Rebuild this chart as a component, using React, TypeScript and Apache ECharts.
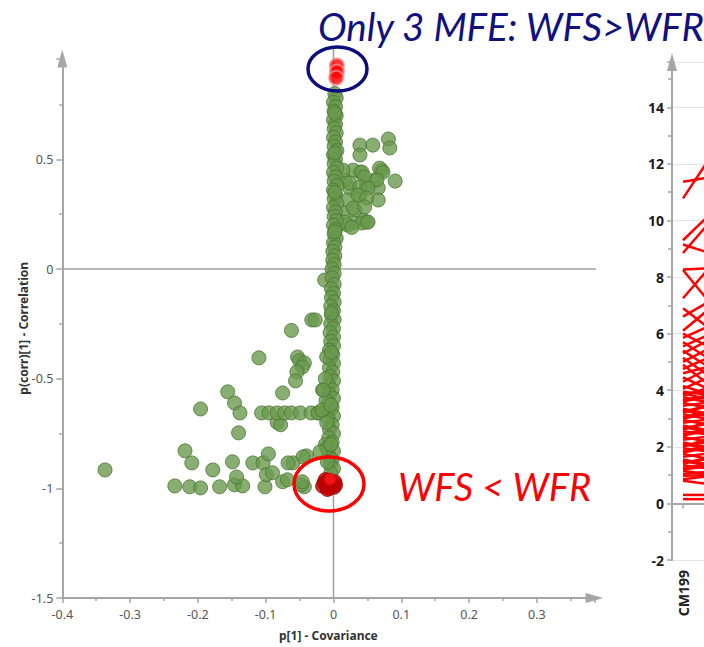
import React, { useEffect, useRef } from 'react';
import * as echarts from 'echarts';

// ---------- S-plot data (p[1] covariance, p(corr)[1] correlation) ----------
const columnPoints: [number, number][] = [
  [0.002, 0.80], [0.004, 0.78], [0.000, 0.76], [0.003, 0.74], [0.001, 0.72], [0.004, 0.70],
  [0.000, 0.68], [0.003, 0.66], [0.001, 0.64], [0.004, 0.62], [0.000, 0.60], [0.003, 0.58],
  [0.001, 0.56], [0.005, 0.54], [0.000, 0.52], [0.003, 0.50], [0.001, 0.48], [0.005, 0.46],
  [0.000, 0.44], [0.003, 0.42], [0.001, 0.40], [0.005, 0.38], [0.000, 0.36], [0.003, 0.34],
  [0.001, 0.32], [0.005, 0.30], [0.000, 0.28], [0.003, 0.26], [0.001, 0.24], [0.004, 0.22],
  [0.000, 0.20], [0.003, 0.18], [0.001, 0.16], [0.004, 0.14], [0.000, 0.12], [0.002, 0.10],
  [-0.001, 0.08], [0.002, 0.06], [-0.001, 0.04], [0.001, 0.02], [-0.002, 0.00], [0.001, -0.02],
  [-0.013, -0.05], [-0.002, -0.04], [0.001, -0.07], [-0.003, -0.09], [0.000, -0.11],
  [-0.003, -0.13], [0.001, -0.15], [-0.004, -0.17], [0.000, -0.19], [-0.003, -0.21],
  [0.001, -0.23], [-0.004, -0.25], [0.000, -0.27], [-0.005, -0.29], [0.000, -0.31],
  [-0.004, -0.33], [0.000, -0.35], [-0.006, -0.37], [-0.001, -0.39], [-0.005, -0.41],
  [0.000, -0.43], [-0.006, -0.45], [-0.001, -0.47], [-0.005, -0.49], [0.000, -0.51],
  [-0.007, -0.53], [-0.002, -0.55], [-0.006, -0.57], [0.000, -0.59], [-0.007, -0.61],
  [-0.002, -0.63], [-0.006, -0.65], [0.000, -0.67], [-0.007, -0.69], [-0.002, -0.71],
  [-0.006, -0.73], [0.000, -0.75], [-0.007, -0.77], [-0.002, -0.79], [-0.006, -0.81],
  [0.000, -0.83], [-0.007, -0.85], [-0.002, -0.87], [-0.005, -0.89], [0.000, -0.91],
  [-0.004, -0.93], [-0.010, -0.40], [-0.011, -0.60], [-0.010, -0.70], [-0.012, -0.80],
  [-0.009, -0.88], [-0.012, -0.50], [-0.015, -0.552], [-0.017, -0.643], [-0.010, -0.816],
  [-0.020, -0.834], [0.002, 0.71], [0.002, 0.53], [0.002, 0.35], [0.002, 0.17],
  [-0.003, -0.20], [-0.003, -0.38], [-0.004, -0.62], [-0.004, -0.80],
];

const upperRightPoints: [number, number][] = [
  [0.039, 0.565], [0.058, 0.565], [0.081, 0.593], [0.083, 0.552], [0.039, 0.520],
  [0.071, 0.451], [0.091, 0.401], [0.039, 0.442], [0.029, 0.451], [0.061, 0.406],
  [0.049, 0.383], [0.066, 0.369], [0.024, 0.369], [0.039, 0.337], [0.066, 0.315],
  [0.021, 0.315], [0.014, 0.255], [0.032, 0.269], [0.044, 0.223], [0.029, 0.210],
  [0.021, 0.200], [0.049, 0.214], [0.017, 0.406], [0.014, 0.451], [0.042, 0.442],
  [0.046, 0.419], [0.068, 0.460], [0.073, 0.442], [0.024, 0.392], [0.064, 0.406],
  [0.039, 0.374], [0.051, 0.369], [0.036, 0.337], [0.049, 0.324], [0.029, 0.278],
  [0.046, 0.283], [0.042, 0.210], [0.051, 0.214], [0.017, 0.214], [0.027, 0.190],
];

const lowerLeftPoints: [number, number][] = [
  [-0.337, -0.916], [-0.219, -0.829], [-0.209, -0.884], [-0.234, -0.989], [-0.212, -0.993],
  [-0.196, -0.998], [-0.178, -0.916], [-0.168, -0.993], [-0.149, -0.879], [-0.146, -0.984],
  [-0.134, -0.989], [-0.143, -0.948], [-0.140, -0.747], [-0.119, -0.884], [-0.104, -0.884],
  [-0.096, -0.843], [-0.101, -0.993], [-0.099, -0.938], [-0.090, -0.929], [-0.083, -0.700],
  [-0.078, -0.710], [-0.032, -0.232], [-0.027, -0.232], [-0.062, -0.280], [-0.110, -0.405],
  [-0.053, -0.401], [-0.050, -0.418], [-0.043, -0.428], [-0.046, -0.447], [-0.054, -0.469],
  [-0.056, -0.510], [-0.156, -0.560], [-0.146, -0.611], [-0.138, -0.656], [-0.196, -0.638],
  [-0.075, -0.565], [-0.106, -0.656], [-0.095, -0.656], [-0.083, -0.656], [-0.072, -0.656],
  [-0.062, -0.656], [-0.049, -0.656], [-0.033, -0.656], [-0.022, -0.656], [-0.040, -0.852],
  [-0.045, -0.857], [-0.060, -0.884], [-0.067, -0.884], [-0.075, -0.970], [-0.068, -0.961],
  [-0.043, -0.993], [-0.047, -0.984], [-0.046, -0.970], [-0.016, -0.551], [-0.023, -0.656],
];

const bottomRedPoints: [number, number][] = [
  [-0.014, -0.975], [-0.010, -0.990], [-0.006, -1.000], [-0.002, -0.985], [0.002, -0.970],
  [-0.012, -0.960], [-0.008, -0.965], [-0.004, -0.975], [0.001, -0.995], [-0.016, -0.990],
  [-0.009, -1.005], [0.003, -0.985],
];
const bottomBrightRedPoints: [number, number][] = [[-0.005, -0.958]];
const topRedPoints: [number, number][] = [[0.005, 0.928], [0.005, 0.900], [0.004, 0.872]];

const zeroVertical: [number, number][] = [[0, -1.5], [0, 1.01]];
const zeroHorizontal: [number, number][] = [[-0.4, 0], [0.4, 0]];

// ---------- line plot (right) ----------
const lineCategories = ['CM199', 'CM200'];
const lineStarts = [
  11.37, 10.78, 9.3, 8.85, 9.15, 8.27, 8.25, 7.25, 6.9, 6.6, 6.1, 6.0, 5.85, 5.7, 5.55, 5.4,
  5.3, 5.15, 5.0, 4.9, 4.75, 4.6, 4.45, 4.3, 4.15, 4.05, 3.95, 3.85, 3.75, 3.65, 3.55, 3.45,
  3.35, 3.25, 3.15, 3.05, 2.95, 2.85, 2.75, 2.65, 2.55, 2.45, 2.35, 2.25, 2.15, 2.05, 1.95,
  1.85, 1.75, 1.65, 1.55, 1.45, 1.35, 1.25, 1.15, 1.05, 0.98, 0.85, 0.8, 0.3, 0.15,
  3.9, 3.6, 3.3, 3.0, 2.7, 2.4, 2.1, 1.8, 1.5, 1.2, 3.8, 3.2, 2.6, 2.0, 1.4,
];
const lineEnds = [
  11.5, 11.95, 10.05, 9.75, 8.9, 8.3, 7.3, 8.15, 6.3, 7.05, 6.75, 5.6, 6.2, 5.2, 5.9, 4.9,
  5.7, 4.6, 5.4, 4.3, 5.1, 4.8, 4.1, 4.7, 3.9, 4.4, 3.85, 4.0, 3.6, 3.8, 3.4, 3.55,
  3.2, 3.4, 3.0, 3.2, 2.8, 2.95, 2.6, 2.8, 2.45, 2.6, 2.2, 2.35, 2.0, 2.15, 1.85,
  2.0, 1.6, 1.75, 1.4, 1.55, 1.25, 1.35, 1.05, 1.1, 1.0, 0.95, 0.7, 0.3, 0.15,
  3.7, 3.75, 3.1, 3.15, 2.55, 2.55, 1.95, 1.95, 1.35, 1.3, 4.05, 3.45, 2.85, 2.25, 1.6,
];

const AXIS_GRAY = '#a6a6a6';
const FONT = 'Noto Sans';

export default function App() {
  const ref = useRef<HTMLDivElement>(null);
  useEffect(() => {
    if (!ref.current) return;
    const chart = echarts.init(ref.current, undefined, { renderer: 'svg' });
    const greenStyle = { color: '#6a9a4e', borderColor: '#4a7535', borderWidth: 1 };
    const option: any = {
      animation: false,
      backgroundColor: '#ffffff',
      title: {
        text: 'Only 3 MFE: WFS>WFR',
        left: 313,
        top: 1,
        textStyle: { fontFamily: 'Lato', fontStyle: 'italic', fontWeight: 'normal', fontSize: 38.5, color: '#10107e' },
      },
      grid: [
        { left: 62.3, top: 58.5, width: 532.2, height: 539.5, outerBoundsMode: 'none', containLabel: false },
        { left: 672, top: 62, width: 44, height: 498, outerBoundsMode: 'none', containLabel: false },
      ],
      xAxis: [
        {
          type: 'value', gridIndex: 0, min: -0.4, max: 0.385, interval: 0.1,
          name: 'p[1] - Covariance', nameLocation: 'middle', nameGap: 31, nameMoveOverlap: false,
          nameTextStyle: { fontWeight: 'bold', fontSize: 12, color: '#333', fontFamily: FONT },
          axisLine: { show: true, onZero: false, symbol: ['none', 'triangle'], symbolSize: [10, 18], lineStyle: { color: AXIS_GRAY, width: 2 } },
          axisTick: { show: true, length: 5, lineStyle: { color: AXIS_GRAY, width: 1.5 } },
          minorTick: { show: true, splitNumber: 2, length: 3, lineStyle: { color: AXIS_GRAY, width: 1.5 } },
          splitLine: { show: false },
          axisLabel: { showMaxLabel: false, margin: 10, color: '#555', fontSize: 12.5, fontFamily: FONT },
        },
        {
          type: 'category', gridIndex: 1, data: lineCategories, boundaryGap: true,
          axisLine: { show: true, lineStyle: { color: AXIS_GRAY, width: 2 } },
          axisTick: { show: true, alignWithLabel: true, interval: (i: number) => i === 0, length: 5, lineStyle: { color: AXIS_GRAY, width: 1.5 } },
          axisLabel: { interval: (i: number) => i === 0, rotate: 90, fontWeight: 'bold', fontSize: 14, color: '#222', margin: 10, fontFamily: FONT },
          splitLine: { show: false },
        },
      ],
      yAxis: [
        {
          type: 'value', gridIndex: 0, min: -1.5, max: 0.96, interval: 0.5,
          name: 'p(corr)[1] - Correlation', nameLocation: 'middle', nameGap: 33, nameMoveOverlap: false,
          nameTextStyle: { fontWeight: 'bold', fontSize: 12, color: '#333', fontFamily: FONT },
          axisLine: { show: true, onZero: false, symbol: ['none', 'triangle'], symbolSize: [10, 18], lineStyle: { color: AXIS_GRAY, width: 2 } },
          axisTick: { show: true, length: 6, lineStyle: { color: AXIS_GRAY, width: 1.5 } },
          minorTick: { show: true, splitNumber: 2, length: 3, lineStyle: { color: AXIS_GRAY, width: 1.5 } },
          splitLine: { show: false },
          axisLabel: { showMaxLabel: false, margin: 9, color: '#555', fontSize: 12.5, fontFamily: FONT },
        },
        {
          type: 'value', gridIndex: 1, min: -2, max: 15.6, interval: 2,
          axisLine: { show: true, symbol: ['none', 'triangle'], symbolSize: [10, 18], lineStyle: { color: AXIS_GRAY, width: 2 } },
          axisTick: { show: true, length: 5, lineStyle: { color: AXIS_GRAY, width: 1.5 } },
          minorTick: { show: true, splitNumber: 2, length: 4, lineStyle: { color: AXIS_GRAY, width: 1.5 } },
          splitLine: { show: true, lineStyle: { color: '#e4e4e4', width: 1 } },
          axisLabel: { showMaxLabel: false, margin: 8, color: '#1a1a1a', fontSize: 14, fontWeight: 'bold', fontFamily: FONT },
        },
      ],
      graphic: [
        { type: 'ellipse', z: 100, shape: { cx: 337.5, cy: 69, rx: 29.5, ry: 22 }, style: { fill: 'none', stroke: '#0d0d7d', lineWidth: 3.5 } },
        { type: 'ellipse', z: 100, shape: { cx: 329, cy: 484, rx: 35, ry: 27 }, style: { fill: 'none', stroke: '#ff0000', lineWidth: 3.5 } },
        {
          type: 'text', z: 100, x: 398, y: 467,
          style: { text: 'WFS < WFR', fill: '#ff0000', fontFamily: 'Lato', fontStyle: 'italic', fontSize: 38, align: 'left', verticalAlign: 'top' },
        },
      ],
      series: [
        { type: 'line', xAxisIndex: 0, yAxisIndex: 0, data: zeroVertical, clip: false, symbol: 'none', silent: true, z: 1, lineStyle: { color: '#a0a0a0', width: 1.5 } },
        { type: 'line', xAxisIndex: 0, yAxisIndex: 0, data: zeroHorizontal, clip: false, symbol: 'none', silent: true, z: 1, lineStyle: { color: '#a0a0a0', width: 1.5 } },
        { type: 'scatter', xAxisIndex: 0, yAxisIndex: 0, symbolSize: 14, data: lowerLeftPoints, itemStyle: greenStyle, z: 2 },
        { type: 'scatter', xAxisIndex: 0, yAxisIndex: 0, symbolSize: 14, data: upperRightPoints, itemStyle: greenStyle, z: 2 },
        { type: 'scatter', xAxisIndex: 0, yAxisIndex: 0, symbolSize: 14, data: columnPoints, itemStyle: greenStyle, z: 2 },
        { type: 'scatter', xAxisIndex: 0, yAxisIndex: 0, symbolSize: 14, data: bottomRedPoints, itemStyle: { color: '#c00000', borderColor: '#990000', borderWidth: 1 }, z: 3 },
        { type: 'scatter', xAxisIndex: 0, yAxisIndex: 0, symbolSize: 12, data: bottomBrightRedPoints, itemStyle: { color: '#ff1a1a', borderColor: '#d00000', borderWidth: 1 }, z: 4 },
        { type: 'scatter', xAxisIndex: 0, yAxisIndex: 0, symbolSize: 14, data: topRedPoints, itemStyle: { color: '#ff0000', borderColor: '#f08a8a', borderWidth: 2 }, z: 4 },
        ...lineStarts.map((s, i) => ({
          type: 'line', xAxisIndex: 1, yAxisIndex: 1, data: [s, lineEnds[i]], symbol: 'none', silent: true, clip: true,
          lineStyle: { color: '#ff0000', width: 2.5 },
        })),
      ],
    };
    chart.setOption(option);
    return () => chart.dispose();
  }, []);
  return <div ref={ref} style={{ position: 'absolute', left: 0, top: 0, width: 704, height: 647 }} />;
}
